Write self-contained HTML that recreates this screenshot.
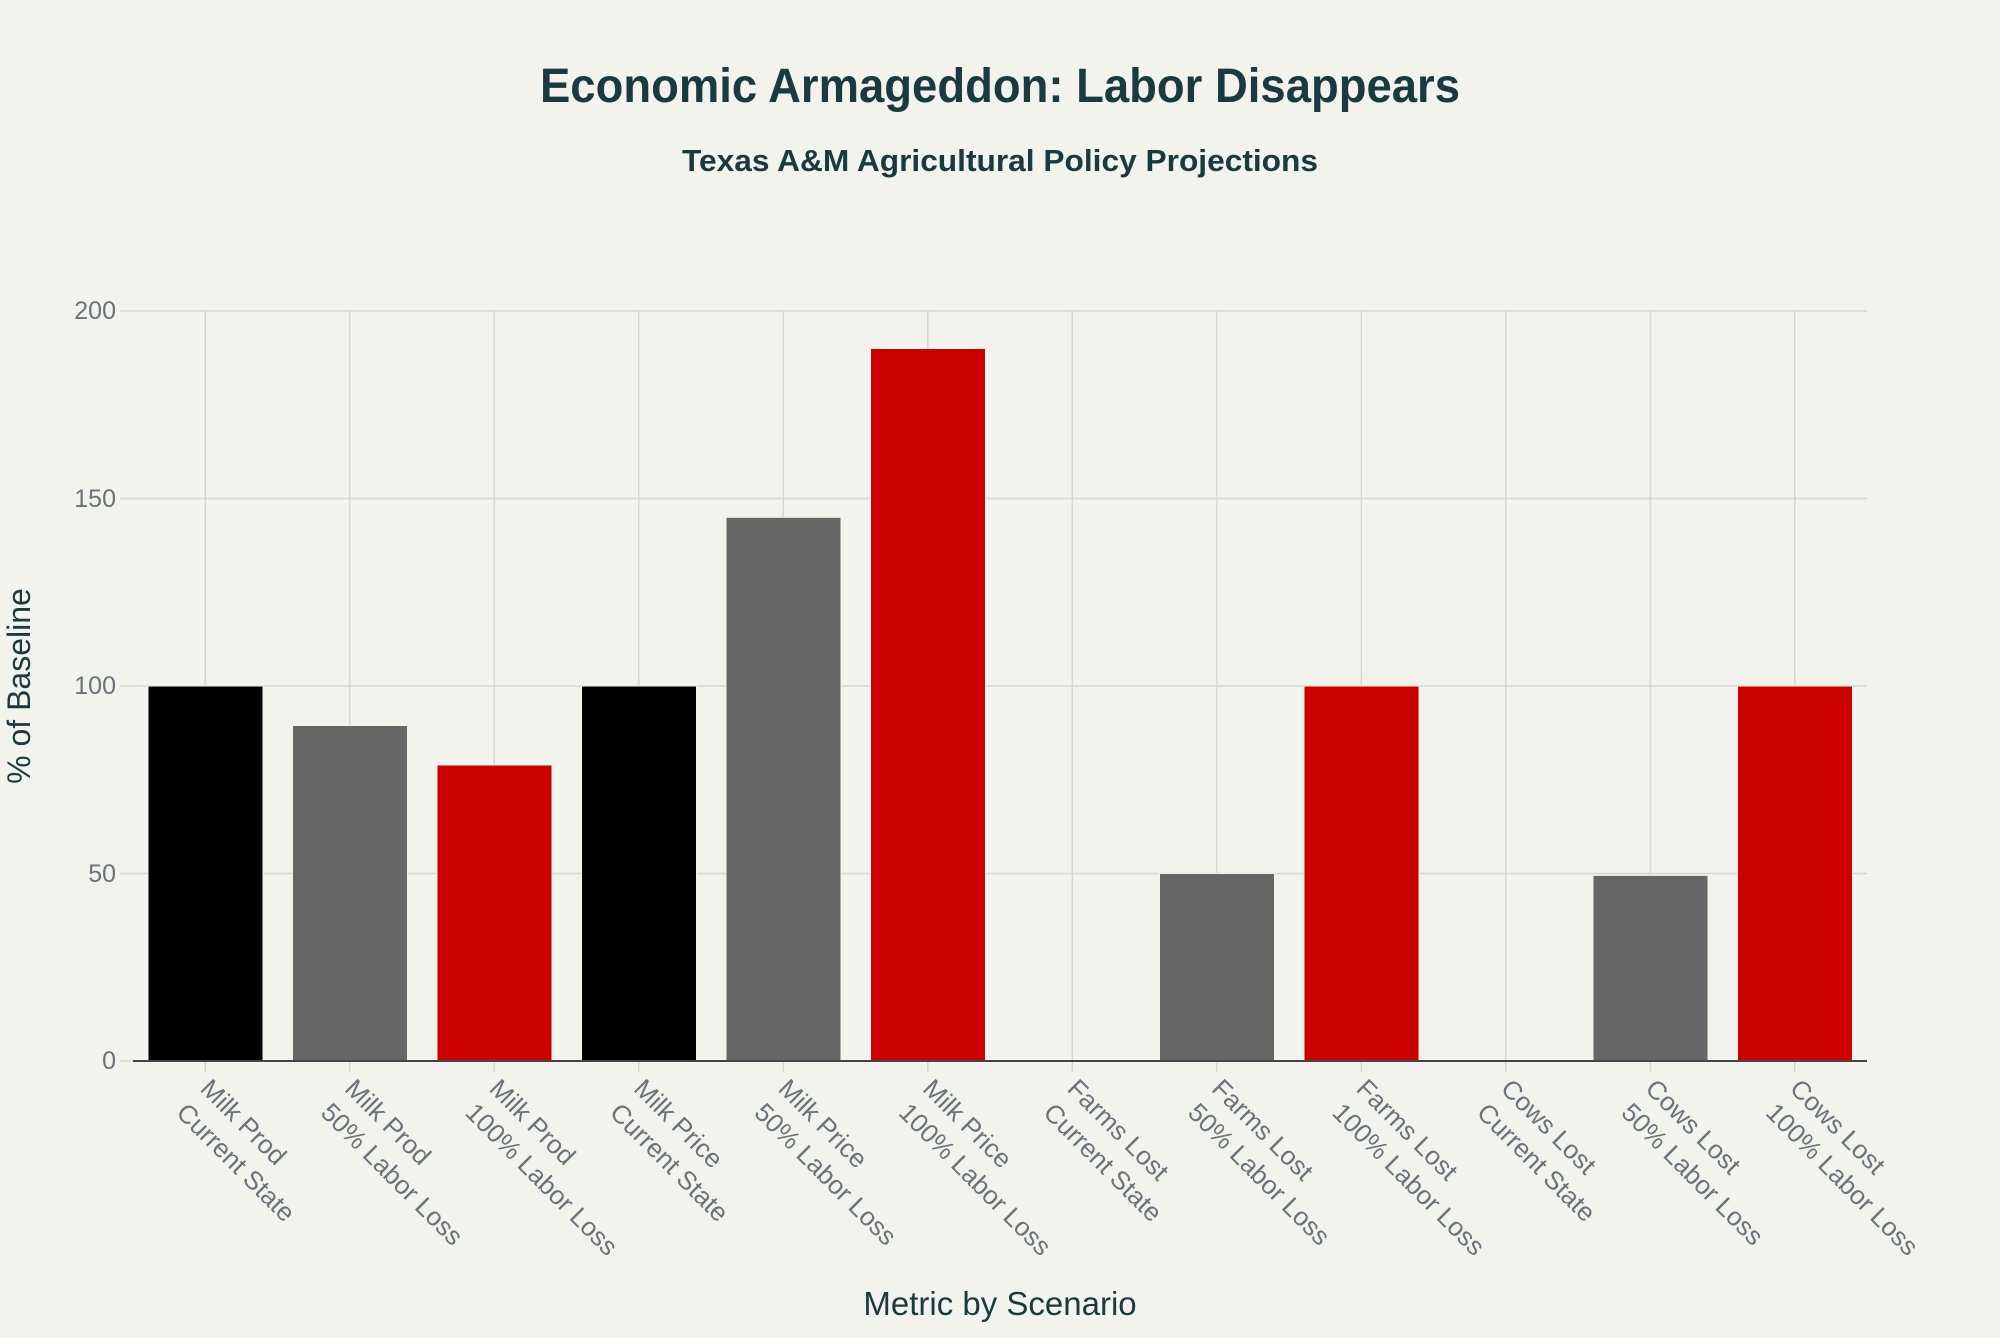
<!DOCTYPE html>
<html><head><meta charset="utf-8"><style>html,body{margin:0;padding:0;background:#f3f3ee}</style></head>
<body>
<svg width="2000" height="1333" viewBox="0 0 2000 1333" xmlns="http://www.w3.org/2000/svg" font-family="Liberation Sans, sans-serif">
<rect width="2000" height="1333" fill="#f3f3ee"/>
<text x="1000" y="102" text-anchor="middle" font-size="48" font-weight="bold" fill="#1b3a3f" textLength="920" lengthAdjust="spacingAndGlyphs">Economic Armageddon: Labor Disappears</text>
<text x="1000" y="171" text-anchor="middle" font-size="31" font-weight="bold" fill="#1b3a3f" textLength="636" lengthAdjust="spacingAndGlyphs">Texas A&amp;M Agricultural Policy Projections</text>
<g stroke="#d8d8d2" stroke-width="1.5">
<line x1="133" y1="873.5" x2="1867" y2="873.5"/>
<line x1="133" y1="686" x2="1867" y2="686"/>
<line x1="133" y1="498.5" x2="1867" y2="498.5"/>
<line x1="133" y1="311" x2="1867" y2="311"/>
<line x1="120" y1="1061" x2="133" y2="1061"/>
<line x1="120" y1="873.5" x2="133" y2="873.5"/>
<line x1="120" y1="686" x2="133" y2="686"/>
<line x1="120" y1="498.5" x2="133" y2="498.5"/>
<line x1="120" y1="311" x2="133" y2="311"/>
<line x1="205.3" y1="311" x2="205.3" y2="1072"/><line x1="349.8" y1="311" x2="349.8" y2="1072"/><line x1="494.3" y1="311" x2="494.3" y2="1072"/><line x1="638.8" y1="311" x2="638.8" y2="1072"/><line x1="783.3" y1="311" x2="783.3" y2="1072"/><line x1="927.8" y1="311" x2="927.8" y2="1072"/><line x1="1072.3" y1="311" x2="1072.3" y2="1072"/><line x1="1216.8" y1="311" x2="1216.8" y2="1072"/><line x1="1361.3" y1="311" x2="1361.3" y2="1072"/><line x1="1505.8" y1="311" x2="1505.8" y2="1072"/><line x1="1650.3" y1="311" x2="1650.3" y2="1072"/><line x1="1794.8" y1="311" x2="1794.8" y2="1072"/>
</g>
<g stroke="#f3f3ee" stroke-width="1">
<rect x="148" y="686" width="115" height="375" fill="#000"/>
<rect x="292.5" y="725.5" width="115" height="335.5" fill="#666"/>
<rect x="437" y="765" width="115" height="296" fill="#cc0000"/>
<rect x="581.5" y="686" width="115" height="375" fill="#000"/>
<rect x="726" y="517.3" width="115" height="543.7" fill="#666"/>
<rect x="870.5" y="348.5" width="115" height="712.5" fill="#cc0000"/>
<rect x="1159.5" y="873.5" width="115" height="187.5" fill="#666"/>
<rect x="1304" y="686" width="115" height="375" fill="#cc0000"/>
<rect x="1593" y="875.4" width="115" height="185.6" fill="#666"/>
<rect x="1737.5" y="686" width="115" height="375" fill="#cc0000"/>
</g>
<line x1="133" y1="1061" x2="1867" y2="1061" stroke="#444" stroke-width="2"/>
<g font-size="25" fill="#6a737a" text-anchor="end">
<text x="116" y="1069">0</text><text x="116" y="882">50</text><text x="116" y="694">100</text><text x="116" y="507">150</text><text x="116" y="319">200</text>
</g>
<text transform="translate(30,686) rotate(-90)" text-anchor="middle" font-size="32" fill="#1b3a3f">% of Baseline</text>
<text x="1000" y="1315" text-anchor="middle" font-size="33" fill="#1b3a3f">Metric by Scenario</text>
<g font-size="26" fill="#6a737a">
<g transform="translate(199,1090) rotate(45)"><text x="0" y="0">Milk Prod</text><text x="0" y="34">Current State</text></g>
<g transform="translate(343.5,1090) rotate(45)"><text x="0" y="0">Milk Prod</text><text x="0" y="34">50% Labor Loss</text></g>
<g transform="translate(488,1090) rotate(45)"><text x="0" y="0">Milk Prod</text><text x="0" y="34">100% Labor Loss</text></g>
<g transform="translate(632.5,1090) rotate(45)"><text x="0" y="0">Milk Price</text><text x="0" y="34">Current State</text></g>
<g transform="translate(777,1090) rotate(45)"><text x="0" y="0">Milk Price</text><text x="0" y="34">50% Labor Loss</text></g>
<g transform="translate(921.5,1090) rotate(45)"><text x="0" y="0">Milk Price</text><text x="0" y="34">100% Labor Loss</text></g>
<g transform="translate(1066,1090) rotate(45)"><text x="0" y="0">Farms Lost</text><text x="0" y="34">Current State</text></g>
<g transform="translate(1210.5,1090) rotate(45)"><text x="0" y="0">Farms Lost</text><text x="0" y="34">50% Labor Loss</text></g>
<g transform="translate(1355,1090) rotate(45)"><text x="0" y="0">Farms Lost</text><text x="0" y="34">100% Labor Loss</text></g>
<g transform="translate(1499.5,1090) rotate(45)"><text x="0" y="0">Cows Lost</text><text x="0" y="34">Current State</text></g>
<g transform="translate(1644,1090) rotate(45)"><text x="0" y="0">Cows Lost</text><text x="0" y="34">50% Labor Loss</text></g>
<g transform="translate(1788.5,1090) rotate(45)"><text x="0" y="0">Cows Lost</text><text x="0" y="34">100% Labor Loss</text></g>
</g>
</svg>
</body></html>
